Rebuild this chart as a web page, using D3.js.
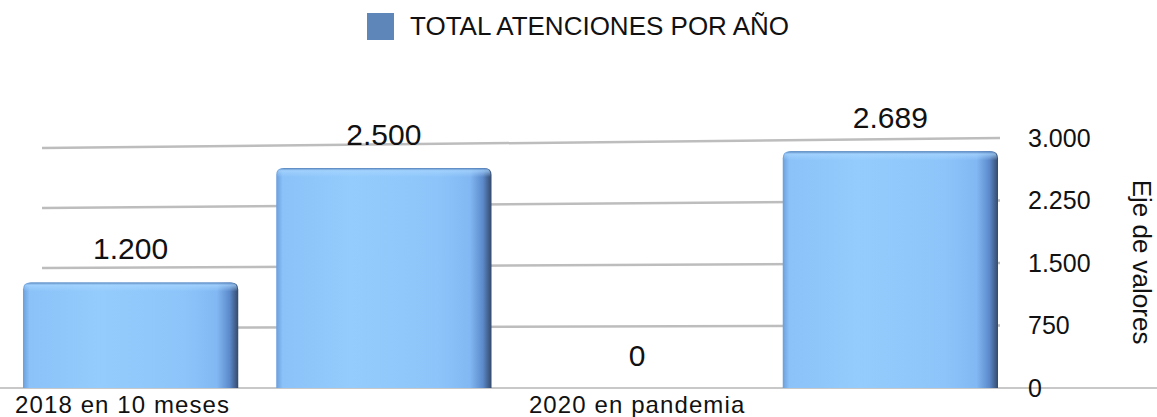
<!DOCTYPE html>
<html>
<head>
<meta charset="utf-8">
<script src="https://cdn.jsdelivr.net/npm/d3@7"></script>
<style>
  body { margin: 0; background: #fff; }
  text { font-family: "Liberation Sans", Arial, Helvetica, sans-serif; fill: #111; }
</style>
</head>
<body>
<script>
'use strict'

// data
const categories = ['2018', '2019', '2020', '2021'];
const tickLabels = ['2018 en 10 meses', '', '2020 en pandemia', ''];
const values = [1200, 2500, 0, 2689];
const axisTicks = [0, 750, 1500, 2250, 3000];
const seriesName = 'TOTAL ATENCIONES POR AÑO';
const axisTitle = 'Eje de valores';

const width = 1157, height = 417, base = 388;

const es = d3.formatLocale({decimal: ',', thousands: '.', grouping: [3], currency: ['', '']});
const fmt = es.format(',d');

const svg = d3.select('body').append('svg')
  .attr('width', width)
  .attr('height', height);

const defs = svg.append('defs');
const sideGrad = defs.append('linearGradient').attr('id', 'barFill')
  .attr('x1', 0).attr('x2', 1).attr('y1', 0).attr('y2', 0);
[[0, '#6b9fdc'], [0.03, '#8bc2f8'], [0.35, '#94ccfd'], [0.75, '#8dc5fa'],
 [0.9, '#82b8f3'], [0.96, '#5c8acb'], [1, '#34496b']]
  .forEach(s => sideGrad.append('stop').attr('offset', s[0]).attr('stop-color', s[1]));
const topGrad = defs.append('linearGradient').attr('id', 'barTop')
  .attr('x1', 0).attr('x2', 0).attr('y1', 0).attr('y2', 1);
topGrad.append('stop').attr('offset', 0).attr('stop-color', '#4a76b0').attr('stop-opacity', 0.9);
topGrad.append('stop').attr('offset', 0.3).attr('stop-color', '#a9d6ff').attr('stop-opacity', 0.7);
topGrad.append('stop').attr('offset', 1).attr('stop-color', '#a9d6ff').attr('stop-opacity', 0);

// scales: back wall (grid) drawn in slight perspective, bars in front plane
const x = d3.scaleBand()
  .domain(categories)
  .range([4, 1017])
  .paddingInner(0.15)
  .paddingOuter(0.075);

const yLeft = d3.scaleLinear().domain([0, 3000]).range([base, 148]);
const yRight = d3.scaleLinear().domain([0, 3000]).range([base, 138]);
const yBar = d3.scaleLinear().domain([0, 3000]).range([base, 124]);

// gridlines
svg.append('g').attr('class', 'grid')
  .selectAll('line')
  .data(axisTicks.filter(v => v > 0))
  .join('line')
  .attr('x1', 42).attr('x2', 1000)
  .attr('y1', d => yLeft(d))
  .attr('y2', d => yRight(d))
  .attr('stroke', '#bdbdbd')
  .attr('stroke-width', 2.5);

svg.append('line')
  .attr('x1', 0).attr('x2', width)
  .attr('y1', yRight(0)).attr('y2', yRight(0))
  .attr('stroke', '#c8c8c8')
  .attr('stroke-width', 2);

// bars
const barPath = function(x0, y0, w, h, r){
  r = Math.min(r, h);
  return 'M' + x0 + ',' + (y0 + h) +
    'V' + (y0 + r) +
    'Q' + x0 + ',' + y0 + ' ' + (x0 + r) + ',' + y0 +
    'H' + (x0 + w - r) +
    'Q' + (x0 + w) + ',' + y0 + ' ' + (x0 + w) + ',' + (y0 + r) +
    'V' + (y0 + h) + 'Z';
}

const data = categories.map((c, i) => ({cat: c, value: values[i]}));

const bars = svg.append('g').attr('class', 'bars')
  .selectAll('g')
  .data(data.filter(d => d.value > 0))
  .join('g');

bars.append('path')
  .attr('d', d => barPath(x(d.cat), yBar(d.value), x.bandwidth(), base - yBar(d.value), 7))
  .attr('fill', 'url(#barFill)');

bars.append('path')
  .attr('d', d => barPath(x(d.cat) + 1, yBar(d.value), x.bandwidth() - 2, 9, 7))
  .attr('fill', 'url(#barTop)');

// value labels
svg.append('g').attr('class', 'labels')
  .selectAll('text')
  .data(data)
  .join('text')
  .attr('x', d => x(d.cat) + x.bandwidth() / 2)
  .attr('y', d => yBar(d.value) - (d.value > 0 ? 23 : 22))
  .attr('text-anchor', 'middle')
  .style('font-size', '30px')
  .text(d => fmt(d.value));

// category axis
const xAxis = svg.append('g')
  .attr('transform', 'translate(0,' + base + ')')
  .call(d3.axisBottom(x).tickSize(0).tickPadding(8).tickFormat((d, i) => tickLabels[i]));
xAxis.select('.domain').remove();
xAxis.selectAll('text')
  .style('font-size', '24px')
  .style('letter-spacing', '1.1px')
  .attr('dx', (d, i) => i === 0 ? -8 : 0)
  .attr('fill', '#111');

// value axis on the right
const yAxis = svg.append('g')
  .attr('transform', 'translate(1000,0)')
  .call(d3.axisRight(yRight).tickValues(axisTicks).tickSize(0).tickPadding(28).tickFormat(fmt));
yAxis.select('.domain').remove();
yAxis.selectAll('text')
  .style('font-size', '25px')
  .attr('fill', '#111');

svg.append('text')
  .attr('transform', 'translate(1133,262) rotate(90)')
  .attr('text-anchor', 'middle')
  .style('font-size', '26px')
  .text(axisTitle);

// legend
svg.append('rect')
  .attr('x', 367).attr('y', 13)
  .attr('width', 27).attr('height', 27)
  .attr('fill', '#5e86b9');

svg.append('text')
  .attr('x', 410).attr('y', 35)
  .style('font-size', '26px')
  .text(seriesName);
</script>
</body>
</html>
